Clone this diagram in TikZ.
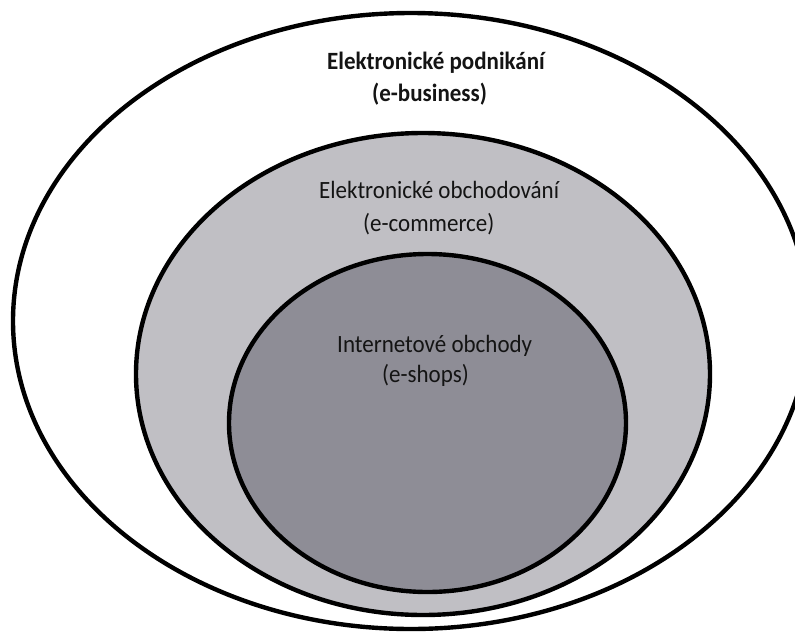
\documentclass[tikz,border=0pt]{standalone}
\usepackage{fontspec}
\setmainfont{Carlito}
\definecolor{midgray}{RGB}{192,191,196}
\definecolor{innergray}{RGB}{142,141,150}
\newcommand{\tallertext}[1]{\scalebox{1}[1.08]{#1}}
\tikzset{
  ring/.style={draw=black, line width=4.4pt},
  lbl/.style={anchor=base west, inner sep=0pt, text=black!92, font=\fontsize{23}{28}\selectfont},
  lblb/.style={lbl, font=\fontsize{23}{28}\selectfont\bfseries}
}
\begin{document}
\begin{tikzpicture}[x=1pt,y=-1pt]
\useasboundingbox (0,0) rectangle (795,632);
\fill[white] (0,0) rectangle (795,632);
\begin{scope}
\clip (0,0) rectangle (795,632);
\draw[ring, fill=white] (411,321) ellipse [x radius=398, y radius=308];
\draw[ring, fill=midgray] (423,374) ellipse [x radius=287, y radius=241];
\draw[ring, fill=innergray] (427.5,423) ellipse [x radius=198.5, y radius=169];
\end{scope}
\node[lblb] (b1) at (327,69) {\tallertext{Elektronické podnikání}};
\node[lblb] (b2) at (372,101) {\tallertext{(e-business)}};
\node[lbl] (c1) at (319,198) {\tallertext{Elektronické obchodování}};
\node[lbl] (c2) at (363,231) {\tallertext{(e-commerce)}};
\node[lbl] (s1) at (337,352) {\tallertext{Internetové obchody}};
\node[lbl] (s2) at (382,382) {\tallertext{(e-shops)}};
\end{tikzpicture}
\end{document}
